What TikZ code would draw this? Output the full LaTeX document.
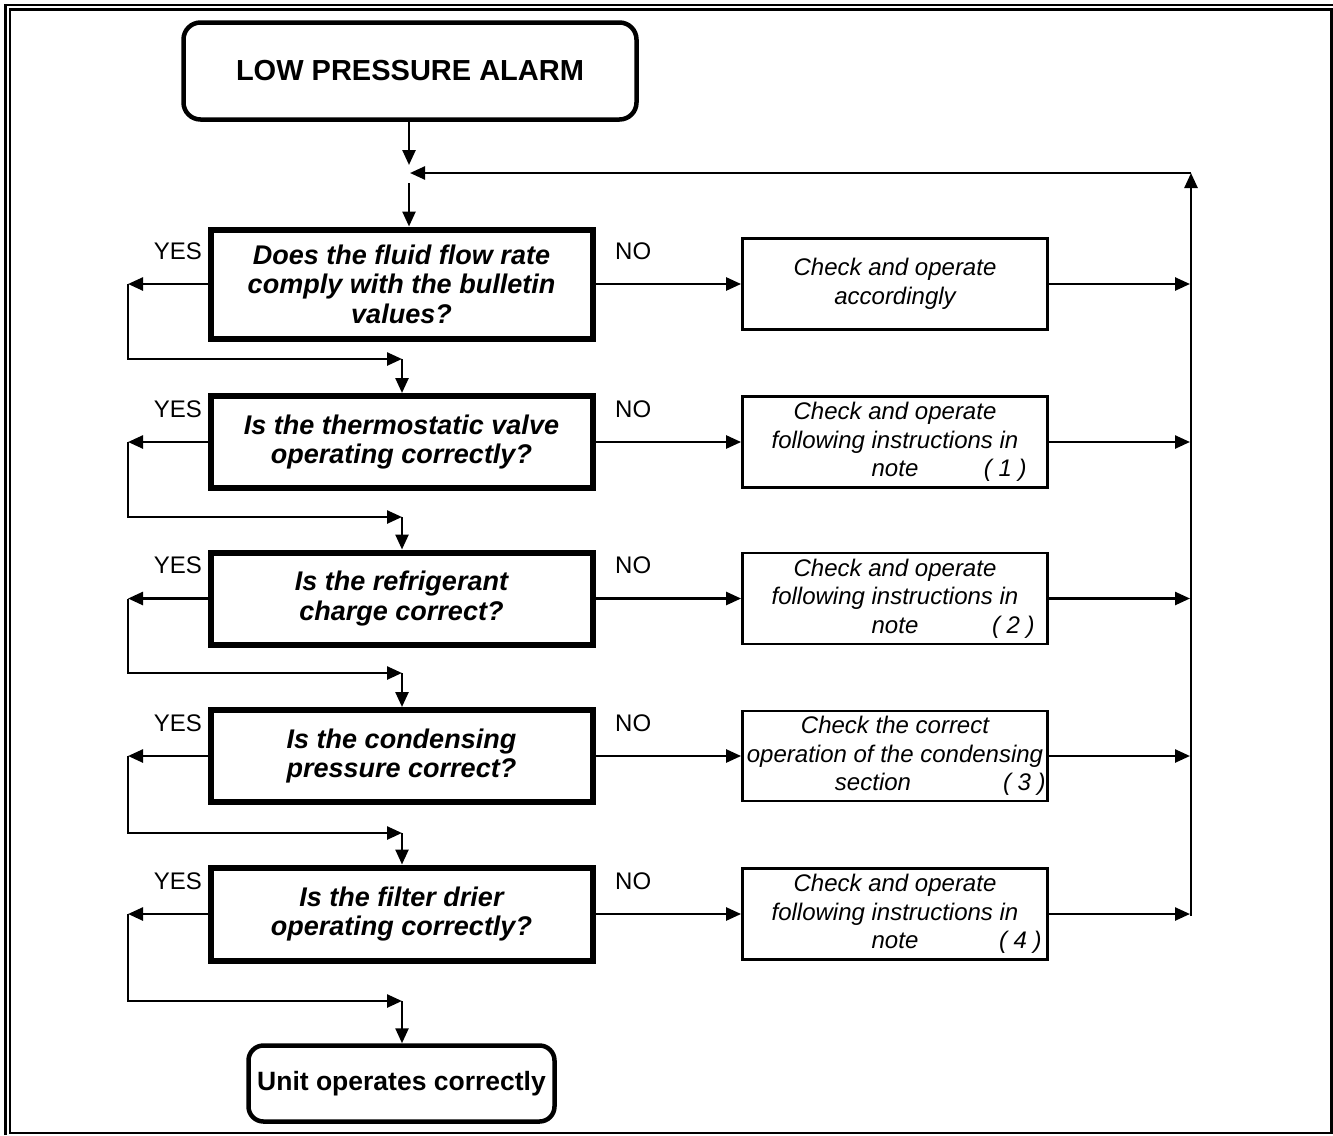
\documentclass[tikz,border=0pt]{standalone}
\usepackage{fontspec}
\setmainfont{Liberation Sans}
\usetikzlibrary{arrows.meta}
\begin{document}
\begin{tikzpicture}[x=1pt,y=-1pt,
  conn/.style={line width=2.5pt,-{Triangle[length=15pt,width=13pt]}},
  dec/.style={draw,line width=6pt,minimum width=382pt,inner sep=0pt,align=center,
    font=\fontsize{27}{29.5}\selectfont\bfseries\itshape},
  chk/.style={draw,line width=2.8pt,minimum width=305pt,minimum height=91pt,inner sep=0pt,align=center,
    font=\fontsize{24}{28.5}\selectfont\itshape},
  term/.style={draw,line width=4.5pt,rounded corners=17pt,inner sep=0pt,align=center,
    font=\fontsize{29}{32}\selectfont\bfseries},
  yeslbl/.style={anchor=base east,inner sep=0pt,font=\fontsize{24}{24}\selectfont},
  nolbl/.style={anchor=base west,inner sep=0pt,font=\fontsize{24}{24}\selectfont}
]
\useasboundingbox (0,0) rectangle (1333,1135);
% frame
\draw[line width=2.2pt] (5.5,1135) -- (5.5,5) -- (1333,5);
\draw[line width=2.2pt] (10,9.5) rectangle (1331.5,1133);

% terminals
\node[term,minimum width=453pt,minimum height=97pt] (start) at (410,71) {LOW PRESSURE ALARM};
\node[term,minimum width=306pt,minimum height=76pt,rounded corners=15pt,font=\fontsize{26.5}{30}\selectfont\bfseries] (end) at (401.5,1083.5) {Unit operates correctly};

% decisions
\node[dec,minimum height=109pt] (d1) at (401.5,284) {Does the fluid flow rate\\comply with the bulletin\\values?};
\node[dec,minimum height=92pt] (d2) at (401.5,442) {Is the thermostatic valve\\operating correctly?};
\node[dec,minimum height=92pt] (d3) at (401.5,598.5) {Is the refrigerant\\charge correct?};
\node[dec,minimum height=92pt] (d4) at (401.5,756) {Is the condensing\\pressure correct?};
\node[dec,minimum height=93pt] (d5) at (401.5,914) {Is the filter drier\\operating correctly?};

% checks
\node[chk] (c1) at (895,284) {Check and operate\\accordingly};
\node[chk] (c2) at (895,442) {Check and operate\\following instructions in\\\makebox[0pt]{note}\makebox[0pt][l]{\hspace{89pt}( 1 )}};
\node[chk] (c3) at (895,598.5) {Check and operate\\following instructions in\\\makebox[0pt]{note}\makebox[0pt][l]{\hspace{97pt}( 2 )}};
\node[chk,minimum height=90pt] (c4) at (895,756) {Check the correct\\operation of the condensing\\\makebox[0pt]{\hspace*{-44pt}section}\makebox[0pt][l]{\hspace{108pt}( 3 )}};
\node[chk] (c5) at (895,914) {Check and operate\\following instructions in\\\makebox[0pt]{note}\makebox[0pt][l]{\hspace{104pt}( 4 )}};

% labels
\foreach \i/\y in {1/284,2/442,3/598.5,4/756,5/914}{
  \node[yeslbl] (yes\i) at (202,\y-25) {YES};
  \node[nolbl] (no\i) at (615,\y-25) {NO};
}

% coordinates
\coordinate (a1) at (409,165);
\coordinate (a2) at (409,183);
\coordinate (fbtop) at (1191,173);
\coordinate (fbend) at (410,173);
\coordinate (fbbot) at (1191,916);
\foreach \i/\y/\ly in {1/284/359,2/442/517,3/598.5/673,4/756/833,5/914/1001}{
  \coordinate (yl\i) at (128,\y);
  \coordinate (j\i) at (402,\ly);
  \coordinate (r\i) at (1190,\y);
}

% top flow
\draw[conn] (start.south -| a1) -- (a1);
\draw[conn] (a2) -- (a2 |- d1.north);
\draw[conn] (fbbot) -- (fbtop);
\draw[conn] (fbtop) -- (fbend);

% yes loops
\foreach \i/\n in {1/2,2/3,3/4,4/5}{
  \draw[conn] (d\i.west) -- (yl\i);
  \draw[conn] (yl\i) |- (j\i);
  \draw[conn] (j\i) -- (j\i |- d\n.north);
}
\draw[conn] (d5.west) -- (yl5);
\draw[conn] (yl5) |- (j5);
\draw[conn] (j5) -- (j5 |- end.north);

% no branches
\foreach \i in {1,...,5}{
  \draw[conn] (d\i.east) -- (c\i.west);
  \draw[conn] (c\i.east) -- (r\i);
}
\end{tikzpicture}
\end{document}
